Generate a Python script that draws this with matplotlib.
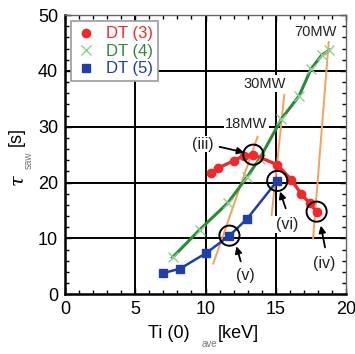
import matplotlib
matplotlib.use("Agg")
import matplotlib.pyplot as plt
from matplotlib.ticker import MultipleLocator
import matplotlib.font_manager as fm

names = {f.name for f in fm.fontManager.ttflist}
fam = ['Liberation Sans Narrow', 'DejaVu Sans'] if 'Liberation Sans Narrow' in names else ['Liberation Sans', 'DejaVu Sans']
plt.rcParams['font.family'] = fam

# Data
dt3_x = [10.4, 10.9, 12.0, 12.7, 13.4, 15.1, 16.1, 16.8, 17.4, 17.9]
dt3_y = [21.8, 22.6, 23.9, 24.8, 25.0, 23.2, 20.5, 18.0, 16.3, 14.8]
dt4_x = [7.65, 9.6, 11.6, 12.95, 13.85, 15.4, 16.65, 17.5, 18.25, 18.8]
dt4_y = [6.6, 11.6, 16.4, 21.0, 24.3, 31.4, 35.5, 40.3, 42.8, 43.7]
dt5_x = [7.0, 8.2, 10.05, 11.7, 12.95, 15.1]
dt5_y = [3.8, 4.6, 7.4, 10.5, 13.5, 20.3]

power_labels = ['18MW', '30MW', '70MW']
power_x = [(10.55, 13.7), (14.7, 15.6), (17.65, 18.8)]
power_y = [(5.5, 28.2), (14.2, 35.7), (10.0, 46.4)]
power_label_xy = [(12.9, 30.4), (14.2, 37.7), (17.8, 46.9)]

circ_labels = ['(iii)', '(vi)', '(iv)', '(v)']
circ_x = [13.4, 15.1, 17.9, 11.7]
circ_y = [25.0, 20.3, 14.8, 10.5]
circ_text_xy = [(9.8, 26.9), (15.8, 12.5), (18.45, 5.6), (12.8, 3.3)]
circ_arrow_tail = [(11.0, 26.4), (15.7, 15.4), (18.5, 8.4), (12.5, 5.9)]
circ_arrow_tip = [(12.75, 25.4), (15.3, 18.4), (18.2, 12.3), (12.2, 8.6)]

fig = plt.figure(figsize=(3.55, 3.54), dpi=100)
ax = fig.add_axes([0.183, 0.1686, 0.792, 0.789])

red = '#ee2a2a'
green_line = '#2a8a3a'
green_mk = '#8fcf8f'
blue = '#1f3fa6'
orange = '#f5a060'

ax.set_xlim(0, 20)
ax.set_ylim(0, 50)
for v in [5, 10, 15]:
    ax.axvline(v, color='black', lw=1.4, zorder=1)
for v in [10, 20, 30, 40]:
    ax.axhline(v, color='black', lw=1.4, zorder=1)

for (xs, ys) in zip(power_x, power_y):
    ax.plot(xs, ys, color=orange, lw=1.4, zorder=3)
for lab, (tx, ty) in zip(power_labels, power_label_xy):
    ax.text(tx, ty, lab, ha='center', va='center', fontsize=10.5, color='#222222',
            bbox=dict(facecolor='white', edgecolor='none', pad=1.0), zorder=4)

ax.plot(dt4_x, dt4_y, color=green_line, lw=2.2, zorder=5)
ax.plot(dt4_x, dt4_y, ls='none', marker='x', ms=7, mew=1.0, color=green_mk, zorder=6, label='DT (4)')
ax.plot(dt3_x, dt3_y, color=red, lw=2.4, marker='o', ms=6, zorder=7, label='DT (3)')
ax.plot(dt5_x, dt5_y, color=blue, lw=1.8, marker='s', ms=6, zorder=7, label='DT (5)')

ax.scatter(circ_x, circ_y, s=210, facecolors='none', edgecolors='black', linewidths=1.4, zorder=8)
for lab, txy, tail, tip in zip(circ_labels, circ_text_xy, circ_arrow_tail, circ_arrow_tip):
    ax.text(txy[0], txy[1], lab, ha='center', va='center', fontsize=11.5, color='#222222', zorder=9,
            bbox=dict(facecolor='white', edgecolor='none', pad=0.5))
    ax.annotate('', xy=tip, xytext=tail,
                arrowprops=dict(arrowstyle='-|>', color='black', lw=1.3, mutation_scale=10,
                                shrinkA=0, shrinkB=0), zorder=9)

h, l = ax.get_legend_handles_labels()
order = [l.index('DT (3)'), l.index('DT (4)'), l.index('DT (5)')]
leg = ax.legend([h[i] for i in order], [l[i] for i in order], loc='upper left',
                bbox_to_anchor=(0.005, 0.995), fontsize=12, frameon=True, fancybox=False,
                edgecolor='#999999', framealpha=1, handlelength=1.2, handletextpad=0.6,
                borderpad=0.3, labelspacing=0.15, borderaxespad=0.3)
leg.get_frame().set_linewidth(1.2)
for t, c in zip(leg.get_texts(), [red, green_line, blue]):
    t.set_color(c)
for lh in leg.legend_handles:
    lh.set_linestyle('none')
leg.set_zorder(10)

ax.xaxis.set_major_locator(MultipleLocator(5))
ax.xaxis.set_minor_locator(MultipleLocator(1))
ax.yaxis.set_major_locator(MultipleLocator(10))
ax.yaxis.set_minor_locator(MultipleLocator(2))
ax.tick_params(which='both', direction='in', top=True, right=True, width=1.0)
ax.tick_params(which='major', length=4, labelsize=13, pad=5)
ax.tick_params(which='minor', length=3)
for s in ax.spines.values():
    s.set_linewidth(1.0)
ax.spines['left'].set_linewidth(1.8)
ax.spines['bottom'].set_linewidth(1.8)
ax.spines['top'].set_color('#666666')
ax.spines['right'].set_color('#666666')

# axis labels
fig.text(148 / 355, 1 - 333 / 354, 'Ti (0)', ha='left', va='center', fontsize=13)
fig.text(202 / 355, 1 - 344 / 354, 'ave', ha='left', va='center', fontsize=7, color='#777777')
fig.text(218 / 355, 1 - 333 / 354, '[keV]', ha='left', va='center', fontsize=13)
fig.text(17 / 355, 1 - 180 / 354, 'τ', ha='center', va='center', fontsize=14, rotation=90,
         family=['DejaVu Serif'], style='italic')
fig.text(29 / 355, 1 - 160 / 354, 'saw', ha='center', va='center', fontsize=7, rotation=90, color='#777777')
fig.text(16 / 355, 1 - 136 / 354, '[s]', ha='center', va='center', fontsize=13, rotation=90)

fig.savefig('out.png', dpi=100)
